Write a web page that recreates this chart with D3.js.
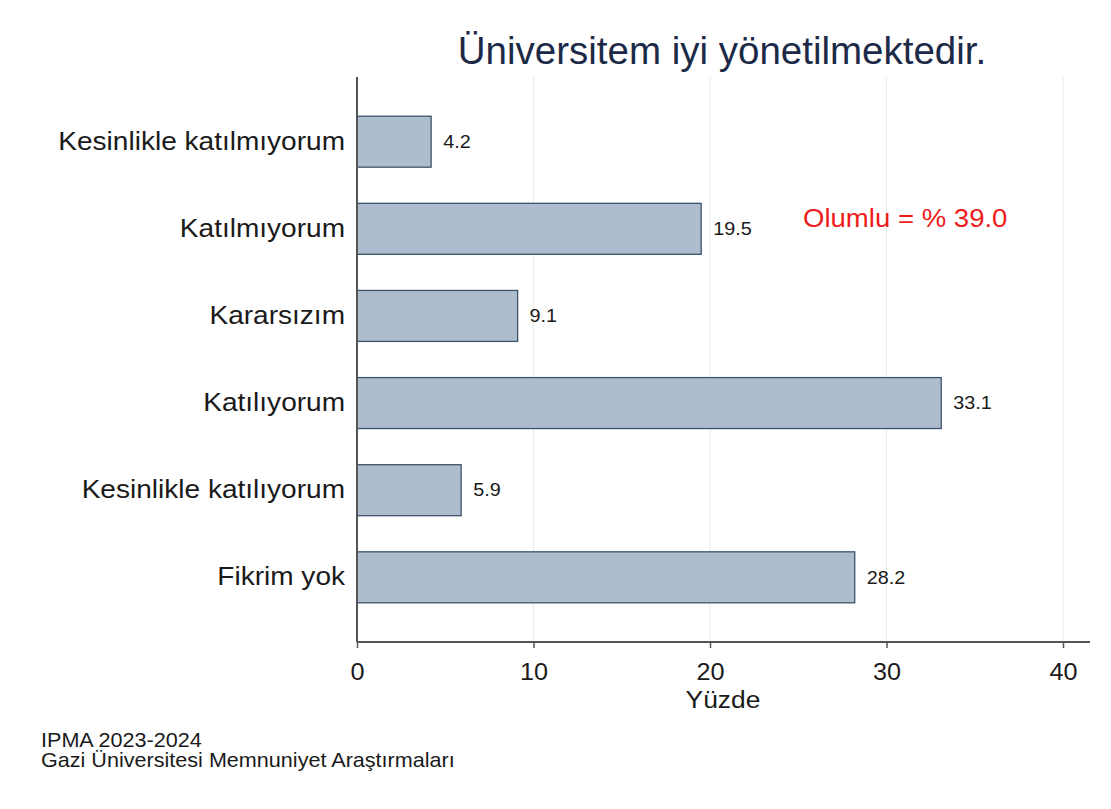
<!DOCTYPE html>
<html>
<head>
<meta charset="utf-8">
<script src="https://cdn.jsdelivr.net/npm/d3@7"></script>
<style>
  body { margin: 0; background: #fff; }
  text { font-family: "Liberation Sans", Arial, sans-serif; }
</style>
</head>
<body>
<div id="chart-area"></div>
<script>
// values
const categories = ['Kesinlikle katılmıyorum', 'Katılmıyorum', 'Kararsızım', 'Katılıyorum', 'Kesinlikle katılıyorum', 'Fikrim yok']
const percents = [4.2, 19.5, 9.1, 33.1, 5.9, 28.2]
const xTicks = [0, 10, 20, 30, 40]
const title = 'Üniversitem iyi yönetilmektedir.'
const note = 'Olumlu = % 39.0'
const footer = ['IPMA 2023-2024', 'Gazi Üniversitesi Memnuniyet Araştırmaları']

const W = 1111
const H = 809
const margin = {top: 77, right: 21, bottom: 167, left: 357}
const width = W - margin.left - margin.right
const height = H - margin.top - margin.bottom
const FONT = '"Liberation Sans", Arial, sans-serif'

// the reference text is a bit wide, so stretch it horizontally
const place = (sel, x, y, sx) => sel.attr('transform', `translate(${x},${y}) scale(${sx},1)`)

const svg = d3.select('#chart-area').append('svg')
  .attr('width', W)
  .attr('height', H)

svg.append('rect').attr('width', W).attr('height', H).attr('fill', '#fff')

const g = svg.append('g')
  .attr('transform', `translate(${margin.left},${margin.top})`)

const x = d3.scaleLinear()
  .domain([0, 40])
  .range([0, 706])

const y = d3.scaleBand()
  .domain(categories)
  .range([0, height])
  .paddingInner(0.415)
  .paddingOuter(0.45)

// grid
g.selectAll('.grid')
  .data(xTicks.filter(d => d > 0))
  .enter().append('line')
    .attr('class', 'grid')
    .attr('x1', d => x(d)).attr('x2', d => x(d))
    .attr('y1', 0).attr('y2', height)
    .attr('stroke', '#eaeaea')
    .attr('stroke-width', 1)

// bars
g.selectAll('.bar')
  .data(percents)
  .enter().append('rect')
    .attr('class', 'bar')
    .attr('x', x(0))
    .attr('y', (d, i) => y(categories[i]))
    .attr('width', d => x(d) - x(0))
    .attr('height', y.bandwidth())
    .attr('fill', '#adbdcd')
    .attr('stroke', '#3e536b')
    .attr('stroke-width', 1.3)

// value labels
g.selectAll('.val')
  .data(percents)
  .enter().append('text')
    .attr('class', 'val')
    .attr('dy', '0.35em')
    .attr('font-size', 18)
    .attr('fill', '#1a1a1a')
    .text(d => d.toFixed(1))
    .each(function(d, i) {
      place(d3.select(this), x(d) + 12, y(categories[i]) + y.bandwidth() / 2, 1.1)
    })

// x axis
const xAxisCall = d3.axisBottom(x)
  .tickValues(xTicks)
  .tickSize(6)
  .tickPadding(15)
  .tickSizeOuter(0)
const xAxis = g.append('g')
  .attr('class', 'x axis')
  .attr('transform', `translate(0,${height})`)
  .call(xAxisCall)
xAxis.select('.domain').attr('d', `M0,0H733`).attr('stroke', '#555').attr('stroke-width', 2)
xAxis.selectAll('.tick line').attr('stroke', '#555').attr('stroke-width', 1.5)
xAxis.selectAll('text')
  .attr('font-size', 24)
  .attr('fill', '#1a1a1a')
  .attr('font-family', FONT)
  .attr('transform', 'scale(1.05,1)')

// y axis
const yAxisCall = d3.axisLeft(y).tickSize(0).tickPadding(12)
const yAxis = g.append('g')
  .attr('class', 'y axis')
  .call(yAxisCall)
yAxis.select('.domain').attr('d', `M0,0V${height}`).attr('stroke', '#555').attr('stroke-width', 2)
yAxis.selectAll('text')
  .attr('font-size', 25.5)
  .attr('fill', '#1a1a1a')
  .attr('font-family', FONT)
  .attr('x', -12 / 1.1)
  .attr('transform', 'scale(1.1,1)')

// axis title
place(svg.append('text'), 723, 708, 1.1)
  .attr('text-anchor', 'middle')
  .attr('font-size', 24)
  .attr('fill', '#1a1a1a')
  .text('Yüzde')

// chart title
svg.append('text')
  .attr('x', 722)
  .attr('y', 64)
  .attr('text-anchor', 'middle')
  .attr('font-size', 38.5)
  .attr('fill', '#1c2a48')
  .text(title)

// annotation
place(svg.append('text'), 803, 227, 1.06)
  .attr('font-size', 26)
  .attr('fill', '#ee1c1c')
  .text(note)

// footer
svg.selectAll('.foot')
  .data(footer)
  .enter().append('text')
    .attr('class', 'foot')
    .attr('font-size', 20)
    .attr('fill', '#1a1a1a')
    .text(d => d)
    .each(function(d, i) { place(d3.select(this), 41, 747 + i * 20, 1.08) })
</script>
</body>
</html>
